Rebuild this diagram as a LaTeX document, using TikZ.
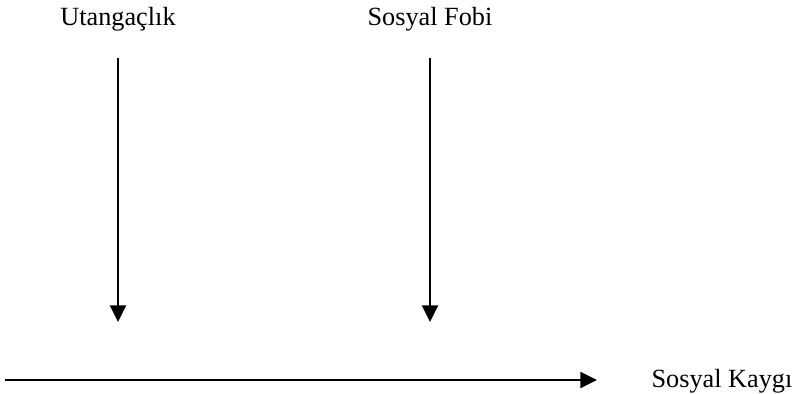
\documentclass[tikz,border=0pt]{standalone}
\usepackage{fontspec}
\setmainfont{Liberation Serif}
\usetikzlibrary{arrows.meta, positioning, calc}

\begin{document}
\begin{tikzpicture}[x=0.75pt,y=-0.75pt,
  lbl/.style={font=\fontsize{19.7}{22}\selectfont, inner sep=0pt},
  arr/.style={line width=1.8pt, -{Triangle[length=12.5pt,width=12pt]}}]
  \useasboundingbox (0,0) rectangle (802,393);
  \node[lbl] (shy) at (118,19) {Utangaçlık};
  \node[lbl] (fobi) at (430,19) {Sosyal Fobi};
  \node[lbl] (kaygi) at (722,381) {Sosyal Kaygı};
  \coordinate (shytop) at (118,58);
  \coordinate (shyend) at (118,322);
  \coordinate (fobitop) at (430,58);
  \coordinate (fobiend) at (430,322);
  \coordinate (axstart) at (5,380);
  \coordinate (axend) at (597,380);

  \draw[arr] (shytop) -- (shyend);
  \draw[arr] (fobitop) -- (fobiend);
  \draw[arr] (axstart) -- (axend);
\end{tikzpicture}
\end{document}
